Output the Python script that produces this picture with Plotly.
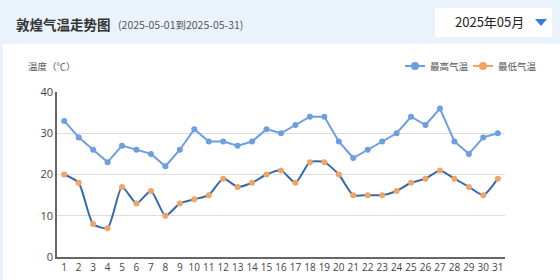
import plotly.graph_objects as go

days = list(range(1, 32))
high = [33, 29, 26, 23, 27, 26, 25, 22, 26, 31, 28, 28, 27, 28, 31, 30, 32, 34, 34, 28,
        24, 26, 28, 30, 34, 32, 36, 28, 25, 29, 30]
low = [20, 18, 8, 7, 17, 13, 16, 10, 13, 14, 15, 19, 17, 18, 20, 21, 18, 23, 23, 20,
       15, 15, 15, 16, 18, 19, 21, 19, 17, 15, 19]
series_names = ["最高气温", "最低气温"]
title = "敦煌气温走势图"
subtitle = "(2025-05-01到2025-05-31)"
month_label = "2025年05月"
y_title = "温度（℃）"

W, H = 560, 280
L, R, T, B = 57, 55, 92, 23
pw, ph = W - L - R, H - T - B

def px(x):
    return (x - L) / pw

def py(y):
    return (H - B - y) / ph

hi_col = "#6d9ee0"
lo_line = "#3469ad"
lo_mark = "#f2a464"

fig = go.Figure()
fig.add_trace(go.Scatter(x=days, y=high, mode="lines+markers", name=series_names[0],
                         line=dict(color=hi_col, width=2), marker=dict(color=hi_col, size=6),
                         showlegend=False))
fig.add_trace(go.Scatter(x=days, y=low, mode="lines+markers", name=series_names[1],
                         line=dict(color=lo_line, width=2, shape="spline", smoothing=0.6),
                         marker=dict(color=lo_mark, size=6), showlegend=False))

shapes = [
    dict(type="rect", xref="paper", yref="paper", x0=px(-5), x1=px(W + 5), y0=py(44), y1=py(-5),
         fillcolor="#eaf2fc", line=dict(width=0), layer="below"),
    dict(type="rect", xref="paper", yref="paper", x0=px(-5), x1=px(3), y0=py(H + 5), y1=py(44),
         fillcolor="#eaf2fc", line=dict(width=0), layer="below"),
    dict(type="rect", xref="paper", yref="paper", x0=px(435), x1=px(552), y0=py(37), y1=py(8),
         fillcolor="white", line=dict(width=0), layer="below"),
    dict(type="path", xref="paper", yref="paper",
         path=f"M {px(535)} {py(19)} L {px(547)} {py(19)} L {px(541)} {py(26)} Z",
         fillcolor="#3a7bd5", line=dict(width=0)),
]

annotations = [
    dict(text=f"<b>{title}</b>", x=px(14), y=py(24), xref="paper", yref="paper",
         xanchor="left", yanchor="middle", showarrow=False,
         font=dict(size=13.5, color="#333333", family="Noto Sans CJK SC")),
    dict(text=subtitle, x=px(116), y=py(24), xref="paper", yref="paper",
         xanchor="left", yanchor="middle", showarrow=False,
         font=dict(size=10.5, color="#555555", family="Noto Sans CJK SC")),
    dict(text=month_label, x=px(526), y=py(22), xref="paper", yref="paper",
         xanchor="right", yanchor="middle", showarrow=False,
         font=dict(size=13, color="#222222", family="Noto Sans CJK SC")),
    dict(text=y_title, x=px(26), y=py(66), xref="paper", yref="paper",
         xanchor="left", yanchor="middle", showarrow=False,
         font=dict(size=9.5, color="#555555", family="Noto Sans CJK SC")),
]

# legend drawn with line segments, markers and text in paper space
leg_items = [(405, series_names[0], hi_col), (473, series_names[1], lo_mark)]
for x0, name, col in leg_items:
    shapes.append(dict(type="line", xref="paper", yref="paper", x0=px(x0), x1=px(x0 + 20),
                       y0=py(66), y1=py(66), line=dict(color=col, width=2)))
    shapes.append(dict(type="circle", xref="paper", yref="paper", x0=px(x0 + 6), x1=px(x0 + 14),
                       y0=py(70), y1=py(62), fillcolor=col, line=dict(width=0)))
    annotations.append(dict(text=name, x=px(x0 + 23), y=py(66), xref="paper", yref="paper",
                            xanchor="left", yanchor="middle", showarrow=False,
                            font=dict(size=9.5, color="#555555", family="Noto Sans CJK SC")))

fig.update_layout(
    width=W, height=H, margin=dict(l=L, r=R, t=T, b=B, autoexpand=False),
    paper_bgcolor="white", plot_bgcolor="white",
    shapes=shapes, annotations=annotations, showlegend=False,
    font=dict(family="Noto Sans CJK SC", size=11, color="#555555"),
    xaxis=dict(range=[0.5, 31.5], tickmode="array", tickvals=days, ticktext=[str(d) for d in days],
               tickangle=0, automargin=False,
               showgrid=False, zeroline=False, showline=True, linecolor="#666666", linewidth=1.5,
               ticks="", tickfont=dict(size=10, color="#444444", family="Open Sans"), fixedrange=True),
    yaxis=dict(range=[0, 40], tickvals=[0, 10, 20, 30, 40], showgrid=True, gridcolor="#dddddd",
               automargin=False,
               zeroline=False, showline=True, linecolor="#666666", linewidth=1.5, ticks="",
               tickfont=dict(size=11, color="#444444", family="Open Sans"), fixedrange=True),
)

fig.write_html("out.html")
